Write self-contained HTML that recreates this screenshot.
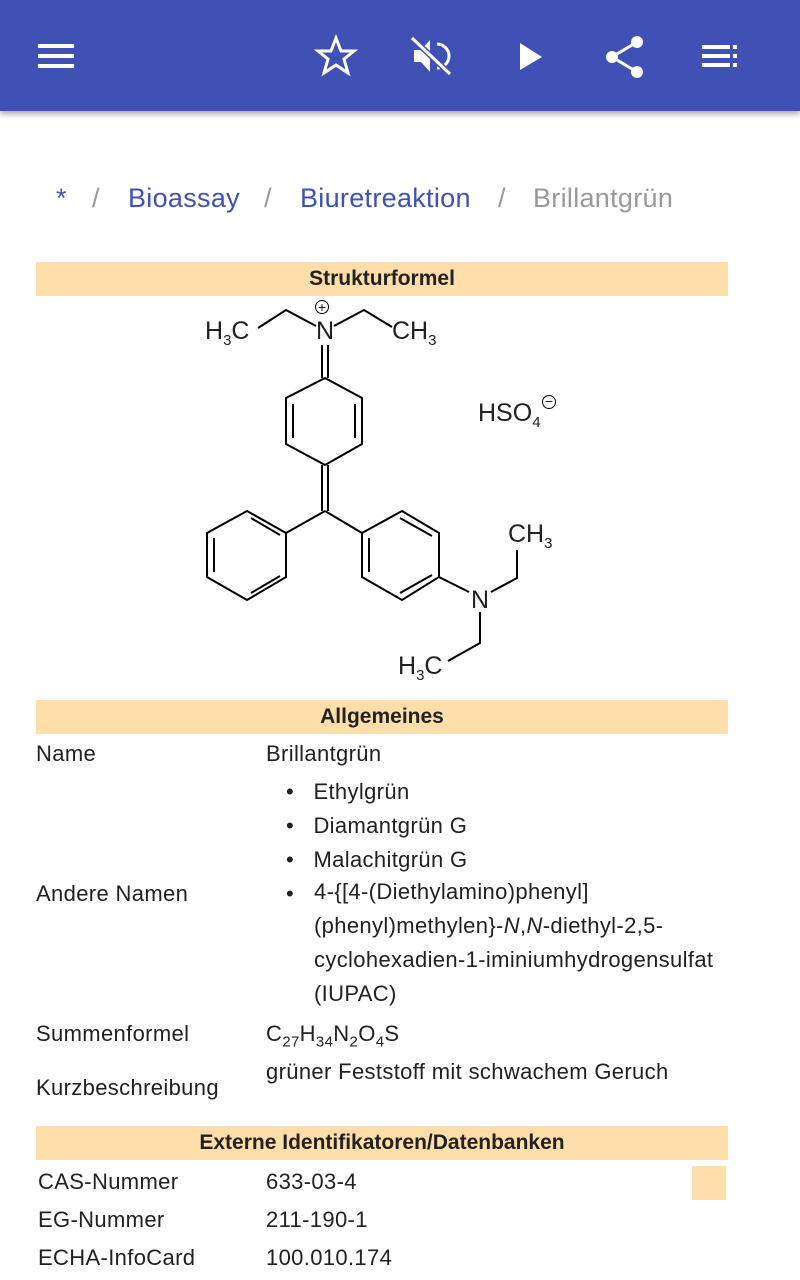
<!DOCTYPE html>
<html><head><meta charset="utf-8"><style>
body{margin:0;width:800px;height:1280px;background:#fff;font-family:"Liberation Sans",sans-serif;color:#212121;position:relative;overflow:hidden}
.bar{position:absolute;left:0;top:0;width:800px;height:111px;background:#3F51B5;box-shadow:0 3px 6px rgba(0,0,0,.35)}
.t{position:absolute;white-space:nowrap}
.hd{position:absolute;left:36px;width:692px;height:34px;background:#FFDEAA;font-weight:bold;font-size:21px;text-align:center;line-height:34px;color:#222}
.r{position:absolute;font-size:22px;letter-spacing:0.35px;white-space:nowrap}
.bc{position:absolute;top:183px;font-size:27px;letter-spacing:0.3px}
sub{font-size:15px}
</style></head><body>
<div class="bar">
<svg width="800" height="111" fill="#fff">
<rect x="38" y="44" width="36" height="4"/><rect x="38" y="54" width="36" height="4"/><rect x="38" y="64" width="36" height="4"/>
<polygon points="336,38 341,51 354,51 344,59 348,73 336,65 324,73 328,59 318,51 331,51" fill="none" stroke="#fff" stroke-width="3"/>
<polygon points="414,50 421,50 430,40 430,72 421,62 414,62"/><path d="M437,44 a12 12 0 0 1 0 24" fill="none" stroke="#fff" stroke-width="3"/><line x1="412" y1="38" x2="450" y2="74" stroke="#3F51B5" stroke-width="6"/><line x1="412" y1="38" x2="450" y2="74" stroke="#fff" stroke-width="3"/>
<polygon points="520,43 542,57 520,70"/>
<circle cx="637" cy="42" r="6"/><circle cx="612" cy="57" r="6"/><circle cx="637" cy="72" r="6"/><path d="M637,42 L612,57 L637,72" stroke="#fff" stroke-width="3" fill="none"/>
<rect x="702" y="45" width="28" height="4"/><rect x="702" y="54" width="28" height="4"/><rect x="702" y="63" width="28" height="4"/><rect x="733" y="45" width="4" height="4"/><rect x="733" y="54" width="4" height="4"/><rect x="733" y="63" width="4" height="4"/>
</svg></div>
<div class="bc" style="left:56px;color:#3F51B5">*</div>
<div class="bc" style="left:92px;color:#999">/</div>
<div class="bc" style="left:128px;color:#3F51B5">Bioassay</div>
<div class="bc" style="left:264px;color:#999">/</div>
<div class="bc" style="left:300px;color:#3F51B5">Biuretreaktion</div>
<div class="bc" style="left:498px;color:#999">/</div>
<div class="bc" style="left:533px;color:#999">Brillantgrün</div>
<div class="hd" style="top:262px">Strukturformel</div>
<svg style="position:absolute;left:0;top:0" width="800" height="700" fill="none" stroke="#000" stroke-width="2">
<path d="M258,328 L286,310 L316,326 M334,326 L364,310 L392,327"/>
<path d="M322,345 L322,378 M328,345 L328,378"/>
<path d="M325,378 L362,398 L362,444 L325,465 L286,444 L286,398 Z"/>
<path d="M293,404 L293,438 M355,404 L355,438"/>
<path d="M322,465 L322,511 M328,465 L328,511"/>
<path d="M325,511 L286,533 M325,511 L362,533"/>
<path d="M286,533 L286,577 L247,600 L207,577 L207,533 L247,511 Z"/>
<path d="M214,538 L214,572 M251,518 L280,535 M251,593 L280,576"/>
<path d="M362,533 L402,511 L439,533 L439,577 L402,600 L362,577 Z"/>
<path d="M369,538 L369,572 M400,518 L432,536 M400,593 L432,575"/>
<path d="M439,577 L469,592 M491,592 L517,578 L517,550 M480,612 L480,643 L448,661"/>
</svg>
<div class="t" style="left:205px;top:317px;font-size:25px">H<sub>3</sub>C</div>
<div class="t" style="left:316px;top:317px;font-size:25px">N</div>
<div class="t" style="left:315px;top:300px;font-size:14px;border:1px solid #000;border-radius:50%;width:12px;height:12px;line-height:12px;text-align:center">+</div>
<div class="t" style="left:392px;top:317px;font-size:25px">CH<sub>3</sub></div>
<div class="t" style="left:478px;top:399px;font-size:25px">HSO<sub>4</sub></div>
<div class="t" style="left:542px;top:395px;font-size:14px;border:1px solid #000;border-radius:50%;width:12px;height:12px;line-height:11px;text-align:center">−</div>
<div class="t" style="left:508px;top:520px;font-size:25px">CH<sub>3</sub></div>
<div class="t" style="left:471px;top:586px;font-size:25px">N</div>
<div class="t" style="left:398px;top:652px;font-size:25px">H<sub>3</sub>C</div>
<div class="hd" style="top:700px">Allgemeines</div>
<div class="r" style="left:36px;top:741px">Name</div>
<div class="r" style="left:266px;top:741px">Brillantgrün</div>
<div class="r" style="left:286px;top:779px">•&nbsp;&nbsp;&nbsp;Ethylgrün</div>
<div class="r" style="left:286px;top:813px">•&nbsp;&nbsp;&nbsp;Diamantgrün G</div>
<div class="r" style="left:286px;top:847px">•&nbsp;&nbsp;&nbsp;Malachitgrün G</div>
<div class="r" style="left:286px;top:881px">•</div>
<div class="r" style="left:314px;top:881px;line-height:34px;margin-top:-6px">4-{[4-(Diethylamino)phenyl]<br>(phenyl)methylen}-<i>N</i>,<i>N</i>-diethyl-2,5-<br>cyclohexadien-1-iminiumhydrogensulfat<br>(IUPAC)</div>
<div class="r" style="left:36px;top:881px">Andere Namen</div>
<div class="r" style="left:36px;top:1021px">Summenformel</div>
<div class="r" style="left:266px;top:1021px">C<sub>27</sub>H<sub>34</sub>N<sub>2</sub>O<sub>4</sub>S</div>
<div class="r" style="left:36px;top:1075px">Kurzbeschreibung</div>
<div class="r" style="left:266px;top:1059px">grüner Feststoff mit schwachem Geruch</div>
<div class="hd" style="top:1126px">Externe Identifikatoren/Datenbanken</div>
<div class="r" style="left:38px;top:1169px">CAS-Nummer</div>
<div class="r" style="left:266px;top:1169px">633-03-4</div>
<div style="position:absolute;left:692px;top:1166px;width:34px;height:34px;background:#FFDEAA"></div>
<div class="r" style="left:38px;top:1207px">EG-Nummer</div>
<div class="r" style="left:266px;top:1207px">211-190-1</div>
<div class="r" style="left:38px;top:1245px">ECHA-InfoCard</div>
<div class="r" style="left:266px;top:1245px">100.010.174</div>
</body></html>
